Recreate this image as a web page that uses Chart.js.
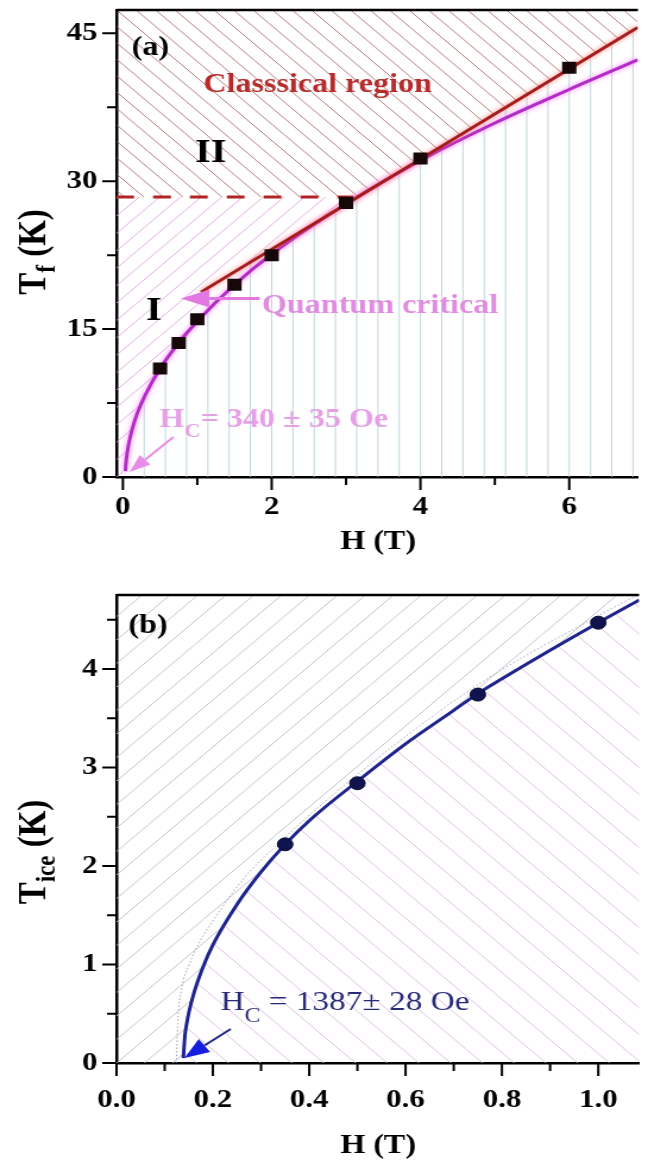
<!DOCTYPE html>
<html>
<head>
<meta charset="utf-8">
<script src="https://cdn.jsdelivr.net/npm/chart.js@4.4.0/dist/chart.umd.min.js"></script>
<style>
  html, body { margin: 0; padding: 0; background: #fff; overflow: hidden; }
  canvas { display: block; }
</style>
</head>
<body>
<!-- the source figure is stretched sideways, so the canvases are drawn narrow and widened by css -->
<canvas id="a" width="545" height="575" style="width:648px;height:575px"></canvas>
<canvas id="b" width="545" height="588" style="width:648px;height:588px"></canvas>
<script>
const FAM = '"Liberation Serif", "Times New Roman", serif';

// ---- panel (a): T_f vs H ----
const xMajorA = [0, 2, 4, 6];
const xMinorA = [1, 3, 5];
const yMajorA = [0, 15, 30, 45];
const yMinorA = [7.5, 22.5, 37.5];

const hA = [0.5, 0.75, 1.0, 1.5, 2, 3, 4, 6];
const tfA = [11.0, 13.6, 16.0, 19.5, 22.5, 27.8, 32.3, 41.5];

// magenta fit curve
const fitHA = [0.034, 0.04, 0.05, 0.07, 0.1, 0.15, 0.2, 0.3, 0.5, 0.75, 1.0, 1.5, 2, 3, 4, 5, 6, 6.92];
const fitTA = [0.6, 1.3, 2.0, 3.0, 4.1, 5.5, 6.6, 8.3, 11.0, 13.6, 15.8, 19.5, 22.6, 27.7, 32.1, 35.9, 39.3, 42.3];

// red straight line and dashed level
const redHA = [1.05, 6.92];
const redTA = [18.75, 45.6];
const dashHA = [-0.09, 3.1];
const dashTA = [28.4, 28.4];

// ---- panel (b): T_ice vs H ----
const xMajorB = [0, 0.2, 0.4, 0.6, 0.8, 1.0];
const xMinorB = [0.1, 0.3, 0.5, 0.7, 0.9];
const yMajorB = [0, 1, 2, 3, 4];
const yMinorB = [0.5, 1.5, 2.5, 3.5, 4.5];

const hB = [0.35, 0.5, 0.75, 1.0];
const tiB = [2.22, 2.84, 3.74, 4.47];

const fitHB = [0.1387, 0.142, 0.145, 0.15, 0.16, 0.18, 0.2, 0.25, 0.3, 0.35, 0.4, 0.5, 0.6, 0.7, 0.75, 0.8, 0.9, 1.0, 1.085];
const fitTB = [0.05, 0.28, 0.38, 0.51, 0.70, 0.98, 1.20, 1.61, 1.94, 2.22, 2.46, 2.86, 3.24, 3.58, 3.75, 3.90, 4.19, 4.47, 4.70];

// faint dotted band next to the fit
const bandHB = [0.124, 0.127, 0.135, 0.151, 0.175, 0.208, 0.26, 0.33, 0.5, 0.75, 1.0, 1.085];
const bandTB = [0.0, 0.4, 0.75, 1.0, 1.25, 1.5, 1.85, 2.2, 2.93, 3.84, 4.54, 4.76];

const pts = (xs, ys) => xs.map((x, i) => ({ x: x, y: ys[i] }));
const tickFont = { family: FAM, size: 26, weight: 'bold' };

function makeScales(o) {
  return {
    x: {
      type: 'linear', min: o.xmin, max: o.xmax,
      afterFit: s => { s.height = o.xh; s.paddingLeft = 0; s.paddingRight = 0; },
      afterBuildTicks: s => { s.ticks = o.xMajor.concat(o.xMinor).sort((p, q) => p - q).map(v => ({ value: v })); },
      grid: { display: false, drawTicks: false },
      border: { display: true, color: '#000', width: 2.5 },
      ticks: { autoSkip: false, maxRotation: 0, minRotation: 0, padding: o.xpad, color: '#000', font: tickFont,
        callback: v => o.xMajor.includes(v) ? o.xFmt(v) : '' }
    },
    y: {
      type: 'linear', min: o.ymin, max: o.ymax,
      afterFit: s => { s.width = 98; s.paddingTop = 0; s.paddingBottom = 0; },
      afterBuildTicks: s => { s.ticks = o.yMajor.concat(o.yMinor).sort((p, q) => p - q).map(v => ({ value: v })); },
      grid: { display: false, drawTicks: false },
      border: { display: true, color: '#000', width: 2.5 },
      ticks: { autoSkip: false, padding: 16, color: '#000', font: tickFont,
        callback: v => o.yMajor.includes(v) ? String(v) : '' }
    }
  };
}

function clipPoly(ctx, poly) {
  ctx.beginPath();
  poly.forEach((p, i) => i ? ctx.lineTo(p[0], p[1]) : ctx.moveTo(p[0], p[1]));
  ctx.closePath();
  ctx.clip();
}

// dir: '/', '\\' or '|'
function hatch(ctx, a, dir, step, x0, color) {
  const h = a.bottom - a.top;
  ctx.strokeStyle = color;
  ctx.lineWidth = 1;
  ctx.beginPath();
  const k0 = Math.floor((a.left - h - x0) / step) - 1;
  const k1 = Math.ceil((a.right + h - x0) / step) + 1;
  for (let k = k0; k <= k1; k++) {
    const x = x0 + k * step;
    if (dir === '|') { ctx.moveTo(x, a.top); ctx.lineTo(x, a.bottom); }
    else if (dir === '/') { ctx.moveTo(x, a.bottom); ctx.lineTo(x + h, a.top); }
    else { ctx.moveTo(x, a.top); ctx.lineTo(x + h, a.bottom); }
  }
  ctx.stroke();
}

function arrow(ctx, x1, y1, x2, y2, o) {
  const ang = Math.atan2(y2 - y1, x2 - x1);
  const bx = x2 - Math.cos(ang) * o.head, by = y2 - Math.sin(ang) * o.head;
  ctx.strokeStyle = o.line;
  ctx.lineWidth = o.width;
  ctx.beginPath(); ctx.moveTo(x1, y1); ctx.lineTo(bx, by); ctx.stroke();
  ctx.fillStyle = o.fill;
  ctx.beginPath();
  ctx.moveTo(x2, y2);
  ctx.lineTo(bx + Math.sin(ang) * o.half, by - Math.cos(ang) * o.half);
  ctx.lineTo(bx - Math.sin(ang) * o.half, by + Math.cos(ang) * o.half);
  ctx.closePath(); ctx.fill();
}

// text made of runs: [text, font, dy]
function runs(ctx, x, y, parts, color) {
  ctx.fillStyle = color;
  ctx.textAlign = 'left';
  ctx.textBaseline = 'alphabetic';
  parts.forEach(p => {
    ctx.font = p[1];
    ctx.fillText(p[0], x, y + (p[2] || 0));
    x += ctx.measureText(p[0]).width;
  });
}

function yTitle(ctx, cx, cy, main, sub, rest) {
  const f1 = 'bold 33px ' + FAM, f2 = 'bold 23px ' + FAM;
  ctx.save();
  ctx.translate(cx, cy);
  ctx.rotate(-Math.PI / 2);
  ctx.font = f1;
  const w1 = ctx.measureText(main).width, w3 = ctx.measureText(rest).width;
  ctx.font = f2;
  const w2 = ctx.measureText(sub).width;
  runs(ctx, -(w1 + w2 + w3) / 2, 0, [[main, f1], [sub, f2, 8], [rest, f1]], '#000');
  ctx.restore();
}

function xTitle(ctx, cx, y) {
  ctx.font = 'bold 27px ' + FAM;
  ctx.fillStyle = '#000';
  ctx.textAlign = 'center';
  ctx.textBaseline = 'alphabetic';
  ctx.fillText('H (T)', cx, y);
}

// tick marks pointing outwards, long on labelled values
const tickMarks = {
  id: 'tickMarks',
  afterDraw(chart, args, opts) {
    const { ctx, scales: { x, y } } = chart;
    ctx.save();
    ctx.strokeStyle = '#000';
    ctx.lineWidth = 2;
    ctx.beginPath();
    opts.xMajor.concat(opts.xMinor).forEach(v => {
      const px = x.getPixelForValue(v), len = opts.xMajor.includes(v) ? 13 : 8;
      ctx.moveTo(px, x.top); ctx.lineTo(px, x.top + len);
    });
    opts.yMajor.concat(opts.yMinor).forEach(v => {
      const py = y.getPixelForValue(v), len = opts.yMajor.includes(v) ? 12 : 8;
      ctx.moveTo(y.right, py); ctx.lineTo(y.right - len, py);
    });
    ctx.stroke();
    // top frame line
    const a = chart.chartArea;
    ctx.lineWidth = 2.5;
    ctx.beginPath(); ctx.moveTo(a.left, a.top); ctx.lineTo(a.right, a.top); ctx.stroke();
    ctx.restore();
  }
};

// soft halo under the fitted lines
const glow = {
  id: 'glow',
  beforeDatasetDraw(chart, args) {
    const ds = chart.data.datasets[args.index];
    chart.ctx.save();
    if (ds.glow) { chart.ctx.shadowColor = ds.glow; chart.ctx.shadowBlur = 5; }
  },
  afterDatasetDraw(chart) { chart.ctx.restore(); }
};

const regionsA = {
  id: 'regionsA',
  beforeDatasetsDraw(chart) {
    const { ctx, chartArea: a, scales: { x, y } } = chart;
    const X = v => x.getPixelForValue(v), Y = v => y.getPixelForValue(v);
    const curve = fitHA.map((h, i) => [X(h), Y(fitTA[i])]);
    const last = curve[curve.length - 1];
    const r0 = [X(redHA[0]), Y(redTA[0])], r1 = [X(redHA[1]), Y(redTA[1])];
    const dy = Y(dashTA[0]);

    const aboveRed = [[a.left, a.bottom], [r0[0], a.bottom], r0, r1, [a.right, r1[1]], [a.right, a.top], [a.left, a.top]];
    const belowRed = [[r0[0], a.bottom], r0, r1, [a.right, r1[1]], [a.right, a.bottom]];
    const aboveCurve = [[a.left, a.bottom], [curve[0][0], a.bottom]].concat(curve, [[a.right, last[1]], [a.right, a.top], [a.left, a.top]]);
    const belowCurve = [[curve[0][0], a.bottom]].concat(curve, [[a.right, last[1]], [a.right, a.bottom]]);
    const vStep = (X(2) - X(0)) / 7;
    const vColor = 'rgba(172,205,212,0.8)';

    ctx.save();
    // region II: classical, above dashed level and red line
    ctx.save();
    clipPoly(ctx, [[a.left, a.top], [a.right, a.top], [a.right, dy], [a.left, dy]]);
    clipPoly(ctx, aboveRed);
    hatch(ctx, a, '\\', 16.4, a.left, 'rgba(150,85,80,0.75)');
    ctx.restore();
    // region I: quantum, left of the curve below the dashed level
    ctx.save();
    clipPoly(ctx, [[a.left, dy], [a.right, dy], [a.right, a.bottom], [a.left, a.bottom]]);
    clipPoly(ctx, aboveRed);
    clipPoly(ctx, aboveCurve);
    hatch(ctx, a, '/', 17.4, a.left, 'rgba(220,160,220,0.85)');
    ctx.restore();
    // right-hand region: vertical lines
    ctx.save();
    clipPoly(ctx, belowRed);
    hatch(ctx, a, '|', vStep, X(0), vColor);
    ctx.restore();
    ctx.save();
    clipPoly(ctx, belowCurve);
    clipPoly(ctx, aboveRed);
    hatch(ctx, a, '|', vStep, X(0), vColor);
    ctx.restore();
    ctx.restore();
  },
  afterDatasetsDraw(chart) {
    const { ctx, scales: { x, y } } = chart;
    const X = v => x.getPixelForValue(v), Y = v => y.getPixelForValue(v);
    ctx.save();
    runs(ctx, X(0.12), Y(42.8), [['(a)', 'bold 27px ' + FAM]], '#000');
    runs(ctx, X(1.08), Y(39.0), [['Classsical region', 'bold 27px ' + FAM]], 'rgb(182,44,44)');
    runs(ctx, X(0.97), Y(31.9), [['II', 'bold 34px ' + FAM]], '#000');
    runs(ctx, X(0.31), Y(15.9), [['I', 'bold 34px ' + FAM]], '#000');
    runs(ctx, X(1.87), Y(16.6), [['Quantum critical', 'bold 27px ' + FAM]], 'rgb(224,140,224)');
    arrow(ctx, X(1.84), Y(18.1), X(0.78), Y(18.1), { line: 'rgb(226,120,226)', fill: 'rgb(226,120,226)', width: 3, head: 24, half: 9 });
    runs(ctx, X(0.49), Y(5.07), [['H', 'bold 27px ' + FAM], ['C', 'bold 19px ' + FAM, 10], ['= 340 \u00b1 35 Oe', 'bold 27px ' + FAM]], 'rgb(230,160,230)');
    arrow(ctx, X(0.68), Y(4.06), X(0.09), Y(0.5), { line: 'rgb(232,140,232)', fill: 'rgb(232,140,232)', width: 2, head: 18, half: 6.5 });
    yTitle(ctx, 38, 252, 'T', 'f', ' (K)');
    xTitle(ctx, 318, 549);
    ctx.restore();
  }
};

const regionsB = {
  id: 'regionsB',
  beforeDatasetsDraw(chart) {
    const { ctx, chartArea: a, scales: { x, y } } = chart;
    const X = v => x.getPixelForValue(v), Y = v => y.getPixelForValue(v);
    const curve = fitHB.map((h, i) => [X(h), Y(fitTB[i])]);
    const last = curve[curve.length - 1];
    const below = [[curve[0][0], a.bottom]].concat(curve, [[a.right, last[1]], [a.right, a.bottom]]);
    const above = [[a.left, a.bottom], [curve[0][0], a.bottom]].concat(curve, [[a.right, last[1]], [a.right, a.top], [a.left, a.top]]);
    ctx.save();
    ctx.save();
    clipPoly(ctx, above);
    hatch(ctx, a, '/', 23.5, a.left, 'rgba(190,190,202,0.9)');
    ctx.restore();
    ctx.save();
    clipPoly(ctx, below);
    hatch(ctx, a, '\\', 26.7, a.left, 'rgba(218,180,222,0.85)');
    ctx.restore();
    ctx.restore();
  },
  afterDatasetsDraw(chart) {
    const { ctx, scales: { x, y } } = chart;
    const X = v => x.getPixelForValue(v), Y = v => y.getPixelForValue(v);
    ctx.save();
    runs(ctx, X(0.0245), Y(4.37), [['(b)', 'bold 27px ' + FAM]], '#000');
    runs(ctx, X(0.216), Y(0.54), [['H', '28px ' + FAM], ['C', '20px ' + FAM, 12], [' = 1387\u00b1 28 Oe', '28px ' + FAM]], 'rgb(40,42,120)');
    arrow(ctx, X(0.237), Y(0.345), X(0.141), Y(0.05), { line: 'rgb(30,36,140)', fill: 'rgb(20,30,225)', width: 2, head: 21, half: 8 });
    yTitle(ctx, 38, 277, 'T', 'ice', ' (K)');
    xTitle(ctx, 318, 578);
    ctx.restore();
  }
};

const common = {
  responsive: false,
  animation: false,
  devicePixelRatio: 1,
  events: [],
  plugins: { legend: { display: false }, tooltip: { enabled: false } }
};

new Chart(document.getElementById('a'), {
  type: 'scatter',
  data: {
    datasets: [
      { data: pts(hA, tfA), pointStyle: 'rect', pointRadius: 8.5, backgroundColor: '#160808', borderColor: '#160808', borderWidth: 0 },
      { data: pts(redHA, redTA), showLine: true, pointRadius: 0, borderColor: 'rgb(165,28,28)', borderWidth: 3, glow: 'rgba(255,90,90,0.8)' },
      { data: pts(fitHA, fitTA), showLine: true, pointRadius: 0, cubicInterpolationMode: 'monotone', borderColor: 'rgb(178,44,198)', borderWidth: 3, glow: 'rgba(255,110,255,0.9)' },
      { data: pts(dashHA, dashTA), showLine: true, pointRadius: 0, borderColor: 'rgb(178,36,36)', borderWidth: 3, borderDash: [15, 16] }
    ]
  },
  options: Object.assign({}, common, {
    layout: { padding: { top: 10, left: 0, right: 0, bottom: 0 } },
    scales: makeScales({ xmin: -0.0855, xmax: 6.923, ymin: 0, ymax: 47.36, xh: 98, xpad: 15,
      xMajor: xMajorA, xMinor: xMinorA, yMajor: yMajorA, yMinor: yMinorA, xFmt: v => String(v) }),
    plugins: Object.assign({}, common.plugins, {
      tickMarks: { xMajor: xMajorA, xMinor: xMinorA, yMajor: yMajorA, yMinor: yMinorA }
    })
  }),
  plugins: [regionsA, glow, tickMarks]
});

new Chart(document.getElementById('b'), {
  type: 'scatter',
  data: {
    datasets: [
      { data: pts(hB, tiB), pointStyle: 'circle', pointRadius: 6.5, backgroundColor: 'rgb(16,20,78)', borderColor: 'rgb(10,12,55)', borderWidth: 1 },
      { data: pts(fitHB, fitTB), showLine: true, pointRadius: 0, cubicInterpolationMode: 'monotone', borderColor: 'rgb(30,36,140)', borderWidth: 3 },
      { data: pts(bandHB, bandTB), showLine: true, pointRadius: 0, cubicInterpolationMode: 'monotone', borderColor: 'rgba(140,140,165,0.8)', borderWidth: 1, borderDash: [1.5, 2] }
    ]
  },
  options: Object.assign({}, common, {
    layout: { padding: { top: 20, left: 0, right: 0, bottom: 0 } },
    scales: makeScales({ xmin: 0, xmax: 1.0847, ymin: 0, ymax: 4.751, xh: 100, xpad: 22,
      xMajor: xMajorB, xMinor: xMinorB, yMajor: yMajorB, yMinor: yMinorB, xFmt: v => v.toFixed(1) }),
    plugins: Object.assign({}, common.plugins, {
      tickMarks: { xMajor: xMajorB, xMinor: xMinorB, yMajor: yMajorB, yMinor: yMinorB }
    })
  }),
  plugins: [regionsB, glow, tickMarks]
});
</script>
</body>
</html>
